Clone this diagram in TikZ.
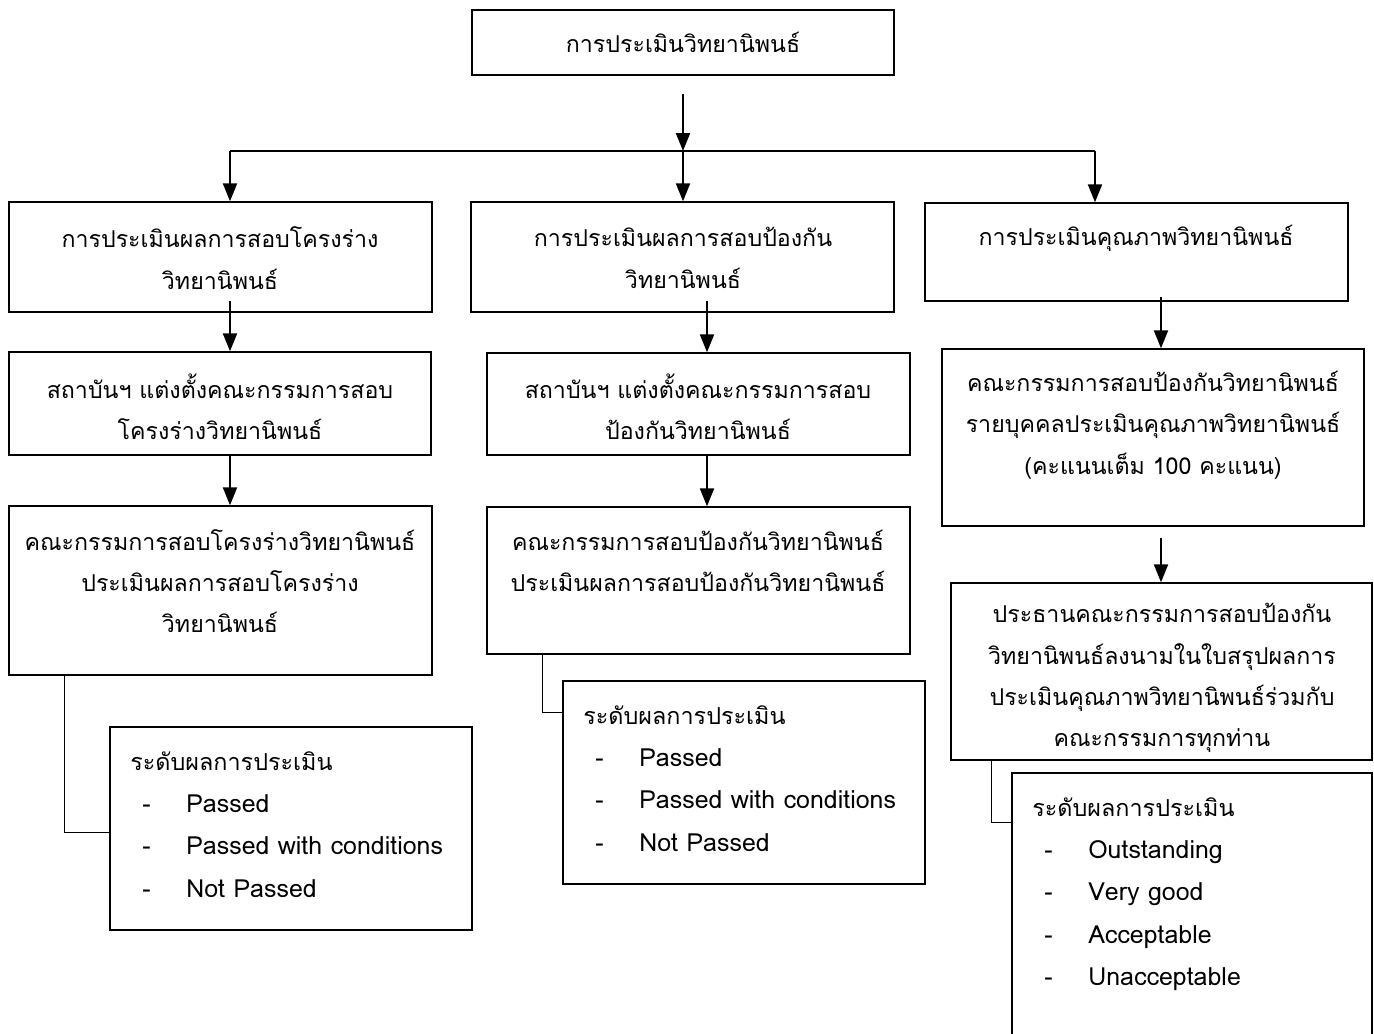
\documentclass[tikz,border=0pt]{standalone}
\usepackage{fontspec}
\newfontfamily\thaifont[Script=Thai]{Loma}
\usetikzlibrary{arrows.meta,calc}

\newcommand\latinsize{\fontsize{14.2}{24}\selectfont}
\newcommand\dashitem[1]{\hspace*{0.24cm}\makebox[0.88cm][l]{\latinsize -}{\latinsize #1}}

\tikzset{
  box/.style={draw, line width=0.8pt, inner sep=0pt},
  txt/.style={align=center, inner sep=0pt, font=\thaifont\fontsize{13.2}{23.5}\selectfont},
  lst/.style={align=left, anchor=north west, inner sep=0pt, font=\thaifont\fontsize{13.3}{24.1}\selectfont},
  arr/.style={line width=1.2pt, -{Triangle[length=0.36cm,width=0.28cm]}},
  link/.style={line width=1.2pt}
}

\begin{document}
\begin{tikzpicture}[x=0.02cm, y=-0.02cm]
        \useasboundingbox (0,0) rectangle (1374,1034);

        % Riquadri
        \node[box, minimum width=8.44cm, minimum height=1.3cm] (top) at (683,42.5) {};
        \node[box, minimum width=8.46cm, minimum height=2.2cm] (l1) at (220.5,257) {};
        \node[box, minimum width=8.46cm, minimum height=2.2cm] (m1) at (682.5,257) {};
        \node[box, minimum width=8.46cm, minimum height=1.96cm] (r1) at (1136.5,252) {};
        \node[box, minimum width=8.44cm, minimum height=2.06cm] (l2) at (220,403.5) {};
        \node[box, minimum width=8.46cm, minimum height=2.04cm] (m2) at (698.5,404) {};
        \node[box, minimum width=8.44cm, minimum height=3.54cm] (r2) at (1153,437.5) {};
        \node[box, minimum width=8.46cm, minimum height=3.38cm] (l3) at (220.5,590.5) {};
        \node[box, minimum width=8.46cm, minimum height=2.94cm] (m3) at (698.5,580.5) {};
        \node[box, minimum width=8.42cm, minimum height=3.54cm] (r3) at (1161.5,671.5) {};
        \node[box, minimum width=7.24cm, minimum height=4.06cm] (l4) at (291,828.5) {};
        \node[box, minimum width=7.24cm, minimum height=4.06cm] (m4) at (744,782.5) {};
        \node[box, minimum width=7.2cm, minimum height=5.54cm] (r4) at (1192,911.5) {};

        % Testi
        \node[txt] (topt) at (683,42) {การประเมินวิทยานิพนธ์};
        \node[txt] (l1t) at (220,258) {การประเมินผลการสอบโครงร่าง\\วิทยานิพนธ์};
        \node[txt] (m1t) at (683,258) {การประเมินผลการสอบป้องกัน\\วิทยานิพนธ์};
        \node[txt] (r1t) at (1136,238) {การประเมินคุณภาพวิทยานิพนธ์};
        \node[txt] (l2t) at (220,407) {สถาบันฯ แต่งตั้งคณะกรรมการสอบ\\โครงร่างวิทยานิพนธ์};
        \node[txt] (m2t) at (698,407) {สถาบันฯ แต่งตั้งคณะกรรมการสอบ\\ป้องกันวิทยานิพนธ์};
        \node[txt] (r2t) at (1153,425) {คณะกรรมการสอบป้องกันวิทยานิพนธ์\\รายบุคคลประเมินคุณภาพวิทยานิพนธ์\\(คะแนนเต็ม 100 คะแนน)};
        \node[txt] (l3t) at (220,581) {คณะกรรมการสอบโครงร่างวิทยานิพนธ์\\ประเมินผลการสอบโครงร่าง\\วิทยานิพนธ์};
        \node[txt] (m3t) at (698,561) {คณะกรรมการสอบป้องกันวิทยานิพนธ์\\ประเมินผลการสอบป้องกันวิทยานิพนธ์};
        \node[txt] (r3t) at (1162,678) {ประธานคณะกรรมการสอบป้องกัน\\วิทยานิพนธ์ลงนามในใบสรุปผลการ\\ประเมินคุณภาพวิทยานิพนธ์ร่วมกับ\\คณะกรรมการทุกท่าน};

        % Livelli di valutazione
        \node[lst] (l4t) at (130,751) {ระดับผลการประเมิน\\ \dashitem{Passed}\\ \dashitem{Passed with conditions}\\ \dashitem{Not Passed}};
        \node[lst] (m4t) at (583,705) {ระดับผลการประเมิน\\ \dashitem{Passed}\\ \dashitem{Passed with conditions}\\ \dashitem{Not Passed}};
        \node[lst] (r4t) at (1032,797) {ระดับผลการประเมิน\\ \dashitem{Outstanding}\\ \dashitem{Very good}\\ \dashitem{Acceptable}\\ \dashitem{Unacceptable}};

        % Frecce
        \coordinate (split) at (683,151);
        \coordinate (jl) at (230,151);
        \coordinate (jr) at (1095,151);
        \coordinate (colM) at (707,0);
        \coordinate (colR) at (1161,0);

        \draw[arr] ($(top.south)+(0,18)$) -- (split);
        \draw[link] (jl) -- (jr);
        \draw[arr] (jl) -- (jl |- l1.north);
        \draw[arr] (split) -- (split |- m1.north);
        \draw[arr] (jr) -- (jr |- r1.north);

        \draw[arr] ($(l1.south -| jl)+(0,-12)$) -- (l2.north -| jl);
        \draw[arr] ($(m1.south -| colM)+(0,-12)$) -- (m2.north -| colM);
        \draw[arr] ($(r1.south -| colR)+(0,-5)$) -- (r2.north -| colR);

        \draw[arr] (l2.south -| jl) -- (l3.north -| jl);
        \draw[arr] (m2.south -| colM) -- (m3.north -| colM);
        \draw[arr] ($(r2.south -| colR)+(0,11)$) -- (r3.north -| colR);

        % Collegamenti ai livelli
        \draw[line width=0.9pt] ($(l3.south west)+(56,0)$) |- ($(l4.north west)+(0,106)$);
        \draw[line width=0.9pt] ($(m3.south west)+(56,0)$) |- ($(m4.north west)+(0,32)$);
        \draw[line width=0.9pt] ($(r3.south west)+(41,0)$) |- ($(r4.north west)+(0,50)$);
\end{tikzpicture}
\end{document}
